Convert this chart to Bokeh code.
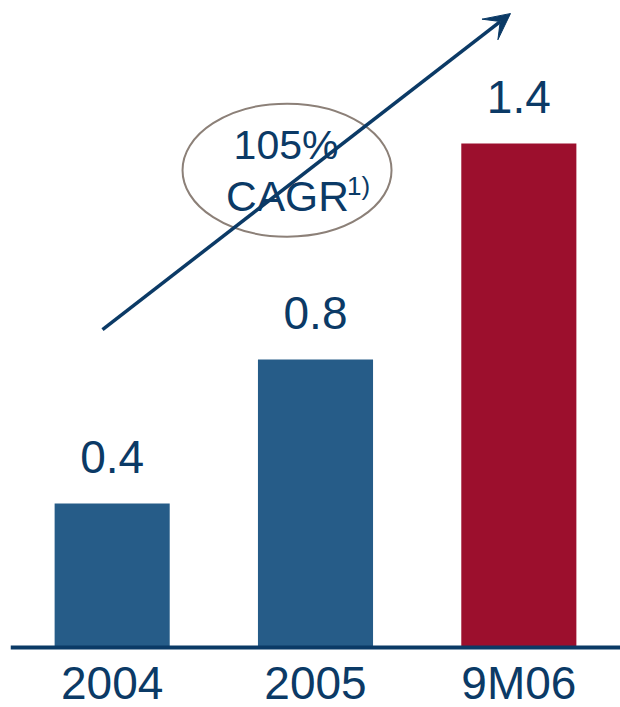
from bokeh.plotting import figure
from bokeh.models import FactorRange, Range1d, Span, Arrow, VeeHead, ColumnDataSource
from bokeh.core.properties import value
from bokeh.embed import file_html
from bokeh.resources import INLINE

# Data
periods = ["2004", "2005", "9M06"]
amounts = [0.4, 0.8, 1.4]
amount_labels = ["0.4", "0.8", "1.4"]
bar_colors = ["#265C88", "#265C88", "#9C0F2D"]
growth_rate = "105%"
growth_label = "CAGR"
growth_note = "1)"

NAVY = "#0B3A66"
FONT = value("Liberation Sans")
PX_PER_UNIT = 360.0

p = figure(
    width=620, height=707,
    x_range=FactorRange(factors=periods, range_padding=0),
    y_range=Range1d(-60 / PX_PER_UNIT, 647 / PX_PER_UNIT),
    x_axis_location=None, y_axis_location=None,
    toolbar_location=None, output_backend="svg",
    min_border_left=10, min_border_right=0, min_border_top=0, min_border_bottom=0,
)
p.outline_line_color = None
p.xgrid.visible = False
p.ygrid.visible = False
p.background_fill_color = "white"
p.border_fill_color = "white"

src = ColumnDataSource(dict(period=periods, amount=amounts, label=amount_labels, color=bar_colors))

# Bars
p.vbar(x="period", top="amount", bottom=0, width=0.566, color="color", line_color=None, source=src)

# Baseline
p.add_layout(Span(location=0, dimension="width", line_color=NAVY, line_width=4))

# Value labels above bars
p.text(x="period", y="amount", text="label", source=src, text_font=FONT,
       text_font_size="46px", text_color=NAVY, text_align="center",
       text_baseline="alphabetic", y_offset=-47)

# Category labels under the baseline
p.text(x="period", y=0, text="period", source=src, text_font=FONT,
       text_font_size="46px", text_color=NAVY, text_align="center",
       text_baseline="alphabetic", y_offset=35)

# Growth arrow
p.add_layout(Arrow(x_start=0.4525, y_start=0.883, x_end=2.459, y_end=1.761,
                   line_color=NAVY, line_width=3.5,
                   end=VeeHead(size=26, fill_color=NAVY, line_color=NAVY, line_width=1)))

# Growth bubble
cx, cy = 1.36, 1.326
p.ellipse(x=[cx], y=[cy], width=209, height=133, width_units="screen", height_units="screen",
          fill_color="white", line_color="#8C8078", line_width=2)
p.text(x=[cx], y=[cy], text=[growth_rate], text_font=FONT, text_font_size="41px",
       text_color=NAVY, text_align="center", text_baseline="alphabetic",
       x_offset=-1, y_offset=-25)
p.text(x=[cx], y=[cy], text=[growth_label], text_font=FONT, text_font_size="42.5px",
       text_color=NAVY, text_align="left", text_baseline="alphabetic",
       x_offset=-61, y_offset=26)
p.text(x=[cx], y=[cy], text=[growth_note], text_font=FONT, text_font_size="26px",
       text_color=NAVY, text_align="left", text_baseline="alphabetic",
       x_offset=60, y_offset=16)

open("out.html", "w").write(file_html(p, INLINE))
